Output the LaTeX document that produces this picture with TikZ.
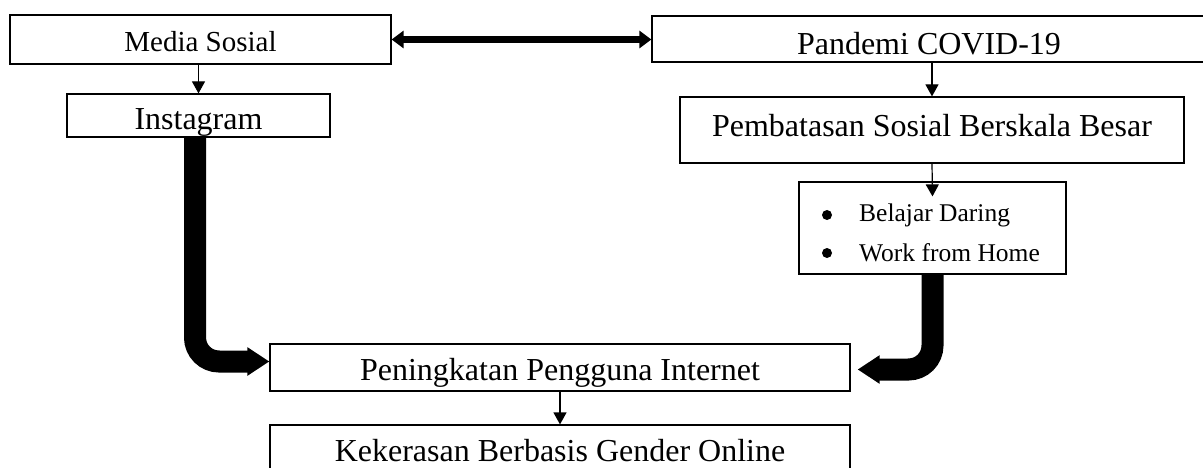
\documentclass[tikz,border=0pt]{standalone}
\usepackage{fontspec}
\setmainfont{Liberation Serif}
\usetikzlibrary{arrows.meta,calc}
\tikzset{
  box/.style={draw, line width=1.2pt, inner sep=0pt, text depth=0pt, font=\fontsize{32}{36}\selectfont},
  thinarrow/.style={line width=1.2pt, -{Triangle[width=13pt,length=12pt]}},
  dblarrow/.style={line width=7pt, {Triangle[width=17pt,length=12pt]}-{Triangle[width=17pt,length=12pt]}},
  thickarrow/.style={line width=22pt, rounded corners=24pt, -{Triangle[width=27pt,length=22pt]}},
  itemtext/.style={anchor=base west, inner sep=0pt, font=\fontsize{25.5}{30}\selectfont},
  bulletdot/.style={circle, fill, inner sep=0pt, minimum size=10pt}
}
\begin{document}
\begin{tikzpicture}[x=1pt,y=-1pt]
\useasboundingbox (0,0) rectangle (1203,468);
\node[box, minimum width=381pt, minimum height=49pt, text height=25pt, font=\fontsize{29}{34}\selectfont] (media) at (200.5,39.5) {Media Sosial};
\node[box, minimum width=263pt, minimum height=43pt, text height=29pt] (insta) at (198.5,115.5) {Instagram};
\node[box, minimum width=554pt, minimum height=46pt, text height=32pt] (pand) at (929,39) {Pandemi COVID-19};
\node[box, minimum width=504pt, minimum height=66pt, text height=14pt] (psbb) at (932,130) {Pembatasan Sosial Berskala Besar};
\node[box, minimum width=267pt, minimum height=92pt] (bul) at (932.5,228) {};
\node[box, minimum width=580pt, minimum height=47pt, text height=25pt] (pen) at (560,367.5) {Peningkatan Pengguna Internet};
\node[box, minimum width=580pt, minimum height=50pt, text height=22pt] (kek) at (560,450) {Kekerasan Berbasis Gender Online};
\node[bulletdot] (b1) at (827,215) {};
\node[bulletdot] (b2) at (827,253) {};
\node[itemtext] (bd) at (859,222) {Belajar Daring};
\node[itemtext] (wh) at (859,261) {Work from Home};
\coordinate (bultip) at ($(bul.north)+(0,15)$);
\draw[thinarrow] (insta.north |- media.south) -- (insta.north);
\draw[thinarrow] (psbb.north |- pand.south) -- (psbb.north);
\draw[thinarrow] (psbb.south) -- (bultip);
\draw[thinarrow] (pen.south) -- (kek.north);
\draw[dblarrow] (media.east) -- (media.east -| pand.west);
\draw[thickarrow] ($(insta.south)+(-3.5,0)$) |- ($(pen.west)+(0,-6)$);
\draw[thickarrow] (bul.south) |- ($(pen.east)+(7,2)$);
\end{tikzpicture}
\end{document}
